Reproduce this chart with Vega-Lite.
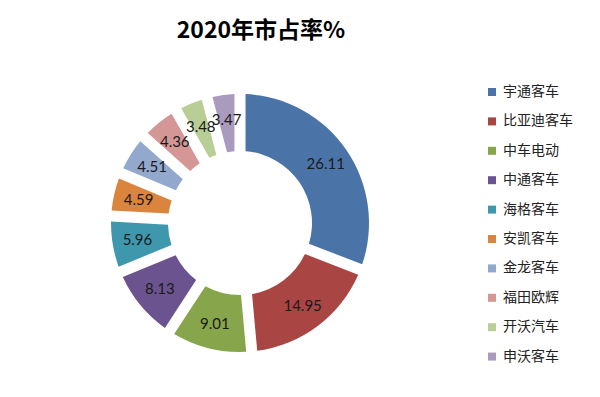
{
  "$schema": "https://vega.github.io/schema/vega-lite/v6.json",
  "autosize": {"type": "none"},
  "width": 480,
  "height": 348,
  "padding": {"left": 0, "top": 49, "right": 120, "bottom": 0},
  "background": "white",
  "title": {
    "text": "2020年市占率%",
    "anchor": "middle",
    "dx": 21,
    "offset": 6,
    "font": "Noto Sans CJK SC",
    "fontSize": 23,
    "fontWeight": "bold",
    "color": "#000000"
  },
  "config": {"view": {"stroke": null}},
  "data": {
    "values": [
      {"name": "宇通客车", "v": 26.11, "o": 1},
      {"name": "比亚迪客车", "v": 14.95, "o": 2},
      {"name": "中车电动", "v": 9.01, "o": 3},
      {"name": "中通客车", "v": 8.13, "o": 4},
      {"name": "海格客车", "v": 5.96, "o": 5},
      {"name": "安凯客车", "v": 4.59, "o": 6},
      {"name": "金龙客车", "v": 4.51, "o": 7},
      {"name": "福田欧辉", "v": 4.36, "o": 8},
      {"name": "开沃汽车", "v": 3.48, "o": 9},
      {"name": "申沃客车", "v": 3.47, "o": 10}
    ]
  },
  "encoding": {
    "theta": {"field": "v", "type": "quantitative", "stack": true},
    "order": {"field": "o", "type": "quantitative"}
  },
  "layer": [
    {
      "mark": {"type": "arc", "innerRadius": 72, "outerRadius": 129, "padAngle": 0.075},
      "encoding": {
        "color": {
          "field": "name",
          "type": "nominal",
          "sort": null,
          "scale": {
            "domain": ["宇通客车", "比亚迪客车", "中车电动", "中通客车", "海格客车", "安凯客车", "金龙客车", "福田欧辉", "开沃汽车", "申沃客车"],
            "range": ["#4A74A8", "#A94543", "#87A54B", "#6B5390", "#3F97AE", "#DB843D", "#92A8CD", "#D49796", "#B9CD96", "#A99BBD"]
          },
          "legend": {
            "title": null,
            "orient": "none",
            "legendX": 485,
            "legendY": 36,
            "symbolType": "square",
            "symbolSize": 64,
            "symbolStrokeWidth": 0,
            "labelFont": "Noto Sans CJK SC",
            "labelFontSize": 14,
            "labelColor": "#222222",
            "labelOffset": 4,
            "rowPadding": 15.4
          }
        }
      }
    },
    {
      "mark": {"type": "text", "radius": 104, "font": "Lato", "fontSize": 15, "color": "#1a1a1a"},
      "encoding": {
        "text": {"field": "v", "type": "quantitative", "format": ".2f"}
      }
    }
  ]
}
